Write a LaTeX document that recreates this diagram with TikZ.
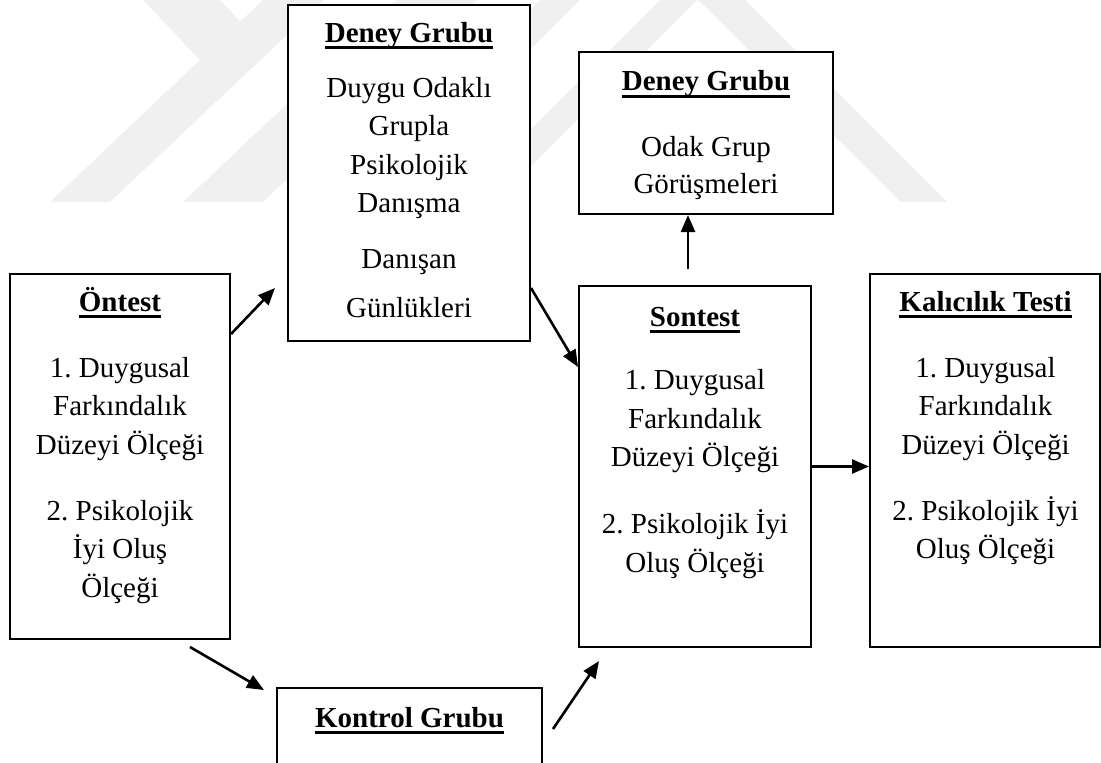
\documentclass[tikz,border=0pt]{standalone}
\usepackage{fontspec}
\setmainfont{Liberation Serif}
\usetikzlibrary{arrows.meta,fit}
\frenchspacing
\newcommand{\altcizgi}[1]{\setbox0\hbox{#1}\leavevmode\rlap{\rule[-3.5pt]{\wd0}{1.4pt}}\box0}

\begin{document}
\begin{tikzpicture}[x=0.5pt,y=-0.5pt,
    kutu/.style={draw,line width=1pt,fill=white,inner sep=0pt},
    baslik/.style={font=\bfseries\fontsize{14.5}{19.25}\selectfont,anchor=base,inner sep=0pt},
    metin/.style={font=\fontsize{14.5}{19.25}\selectfont,align=center,anchor=north,inner sep=0pt},
    ok/.style={line width=1.3pt,-{Triangle[length=8.5pt,width=7pt]}},
    filigran/.style={fill=black!6}]
  \useasboundingbox (0,0) rectangle (1101,762);
  \clip (0,0) rectangle (1101,762);

  % filigran
  \fill[filigran] (143,0) -- (220,0) -- (240,21.5) -- (200,60) -- cycle;
  \fill[filigran] (50,202) -- (110,202) -- (324,0) -- (263,0) -- cycle;
  \fill[filigran] (183,202) -- (263,202) -- (477,0) -- (397,0) -- cycle;
  \fill[filigran] (540,0) -- (580,0) -- (378,202) -- (338,202) -- cycle;
  \fill[filigran] (660,0) -- (697,0) -- (495,202) -- (458,202) -- cycle;
  \fill[filigran] (698,0) -- (745,0) -- (947,202) -- (900,202) -- cycle;

  % kutular
  \node[kutu,fit={(10,274)(230,639)}] (ontest) {};
  \node[kutu,fit={(288,5)(530,341)}] (deney) {};
  \node[kutu,fit={(579,52)(833,214)}] (odak) {};
  \node[kutu,fit={(579,286)(811,647)}] (sontest) {};
  \node[kutu,fit={(870,274)(1100,647)}] (kalici) {};
  \node[kutu,fit={(277,688)(542,808)}] (kontrol) {};

  % metinler
  \node[baslik] (ontestB) at (120,311) {\altcizgi{Öntest}};
  \node[metin] (ontestM) at (120,350) {\strut 1. Duygusal\\Farkındalık\\Düzeyi Ölçeği\\[13.75pt]2. Psikolojik\\İyi Oluş\\Ölçeği};

  \node[baslik] (deneyB) at (409,42) {\altcizgi{Deney Grubu}};
  \node[metin] (deneyM) at (409,70) {\strut Duygu Odaklı\\Grupla\\Psikolojik\\Danışma\\[8.5pt]Danışan\\[5.5pt]Günlükleri};

  \node[baslik] (odakB) at (706,90.5) {\altcizgi{Deney Grubu}};
  \node[metin] (odakM) at (706,129) {\strut Odak Grup\\[-0.75pt]Görüşmeleri};

  \node[baslik] (sontestB) at (695,326) {\altcizgi{Sontest}};
  \node[metin] (sontestM) at (695,362.5) {\strut 1. Duygusal\\Farkındalık\\Düzeyi Ölçeği\\[14.25pt]2. Psikolojik İyi\\Oluş Ölçeği};

  \node[baslik] (kaliciB) at (985.5,311) {\altcizgi{Kalıcılık Testi}};
  \node[metin] (kaliciM) at (985.5,350) {\strut 1. Duygusal\\Farkındalık\\Düzeyi Ölçeği\\[13.75pt]2. Psikolojik İyi\\Oluş Ölçeği};

  \node[baslik] (kontrolB) at (409.5,727) {\altcizgi{Kontrol Grubu}};

  % oklar
  \draw[ok] ([shift={(0,61)}]ontest.north east) -- ([shift={(-12,-54)}]deney.south west);
  \draw[ok] ([shift={(0,-54)}]deney.south east) -- ([shift={(0,82)}]sontest.north west);
  \draw[ok] ([shift={(-7,-16)}]sontest.north) -- ([shift={(-18,0)}]odak.south);
  \draw[ok] (sontest.east) -- (sontest.east -| kalici.west);
  \draw[ok] ([shift={(70,7)}]ontest.south) -- ([shift={(-12,3)}]kontrol.north west);
  \draw[ok] ([shift={(10,42)}]kontrol.north east) -- ([shift={(21,13)}]sontest.south west);
\end{tikzpicture}
\end{document}
